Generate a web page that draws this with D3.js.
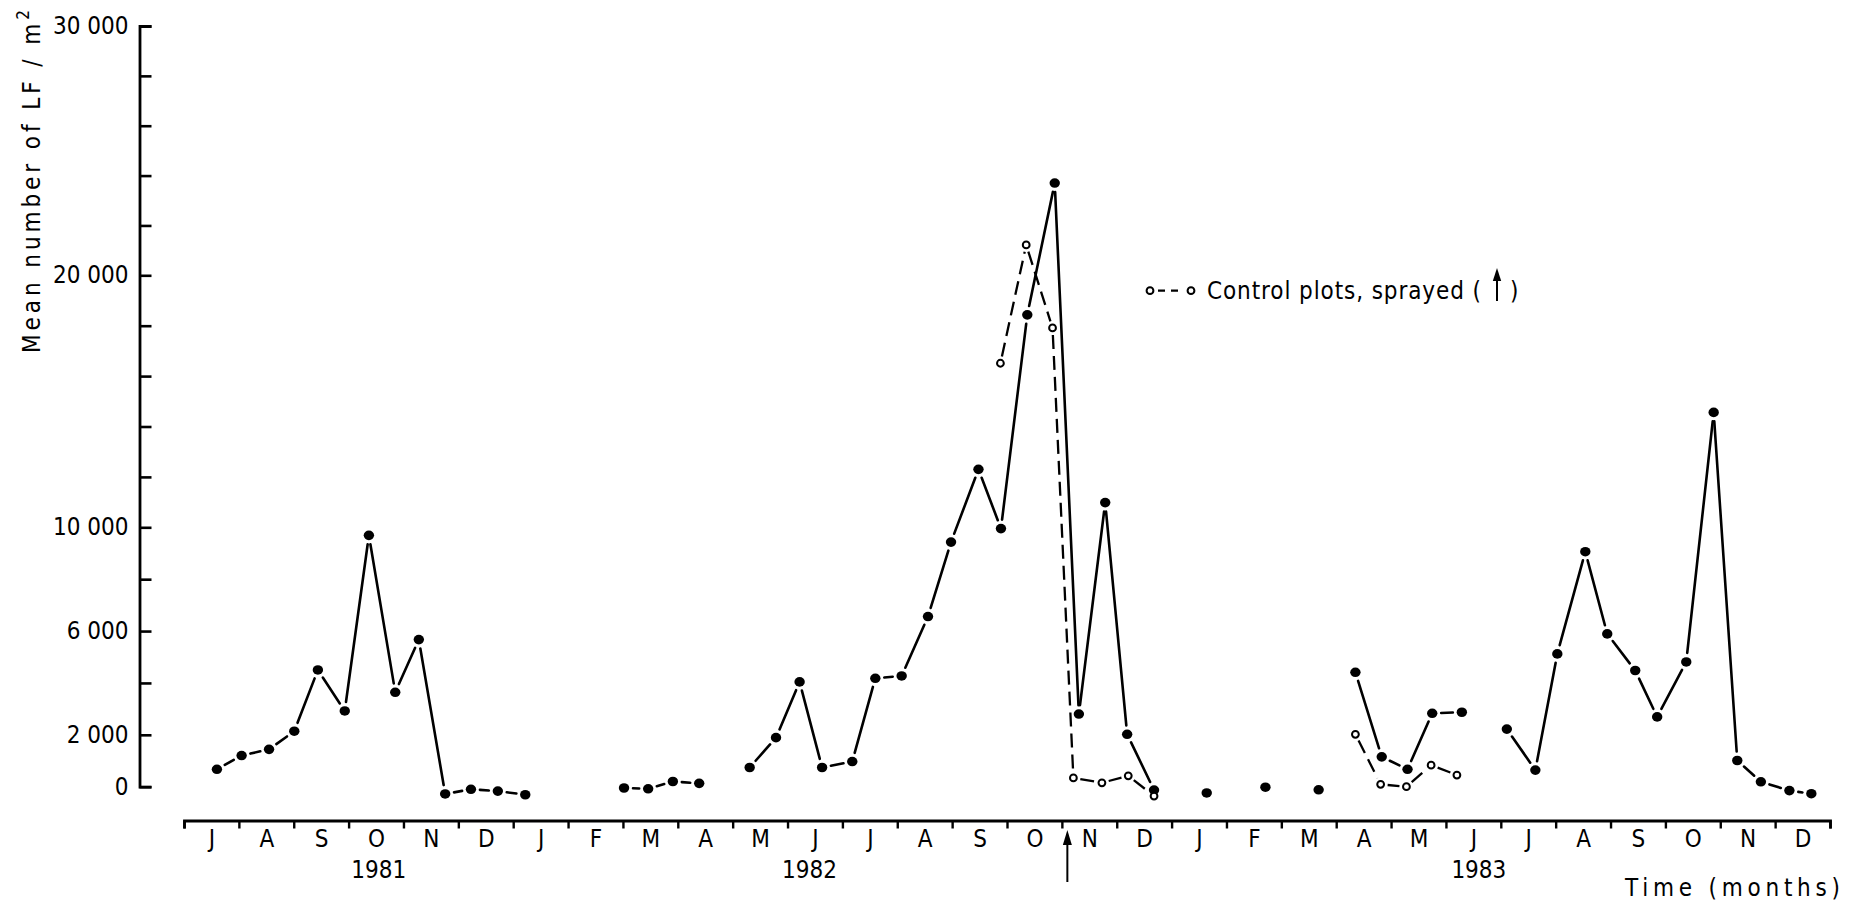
<!DOCTYPE html>
<html>
<head>
<meta charset="utf-8">
<script src="https://cdn.jsdelivr.net/npm/d3@7/dist/d3.min.js"></script>
<style>
  html, body { margin: 0; padding: 0; background: #fff; }
  svg { display: block; }
  text { font-family: "Liberation Sans Narrow", "DejaVu Sans Condensed", "DejaVu Sans", sans-serif; fill: #000; }
</style>
</head>
<body>
<svg id="chart" width="1863" height="905"></svg>
<script>
// ---- Data ---------------------------------------------------------------
// Month initials, July 1981 to December 1983
const months = ["J","A","S","O","N","D","J","F","M","A","M","J",
                "J","A","S","O","N","D","J","F","M","A","M","J",
                "J","A","S","O","N","D"];
const years = ["1981", "1982", "1983"];
const yearCentre = [3.55, 11.4, 23.6];          // months since 1 July 1981

// y axis: a tick every 2000, only some of them labelled
const yTicks = d3.range(0, 30001, 2000);
const yLabelled = [0, 2000, 6000, 10000, 20000, 30000];

// Sampling times (months since 1 July 1981) and mean number of LF / m2.
// Untreated plots, one pair of arrays per run joined by a line.
const run1T = [0.60, 1.05, 1.55, 2.01, 2.44, 2.93, 3.37, 3.85, 4.28, 4.76, 5.23, 5.72, 6.22];
const run1V = [670, 1200, 1440, 2140, 4500, 2920, 9690, 3640, 5670, -280, -100, -170, -310];

const run2T = [8.02, 8.46, 8.91, 9.39];
const run2V = [-50, -80, 200, 130];

const run3T = [10.31, 10.79, 11.22, 11.63, 12.18, 12.60, 13.08, 13.56, 13.98, 14.48,
               14.89, 15.37, 15.87, 16.31, 16.79, 17.19, 17.68];
const run3V = [740, 1890, 4040, 740, 970, 4180, 4270, 6560, 9430, 12300,
               9950, 18430, 23700, 2800, 10980, 2020, -130];

// winter samples shown without connecting lines
const singleT = [18.64, 19.71, 20.68];
const singleV = [-240, -20, -120];

const run4T = [21.35, 21.83, 22.30, 22.75, 23.29];
const run4V = [4410, 1150, 670, 2830, 2870];

const run5T = [24.11, 24.63, 25.03, 25.54, 25.94, 26.45, 26.85, 27.38, 27.88, 28.31, 28.74, 29.26, 29.66];
const run5V = [2220, 640, 5120, 9060, 5890, 4480, 2690, 4810, 14560, 1010, 190, -150, -270];

// Control plots, sprayed
const ctrl1T = [14.88, 15.35, 15.83, 16.21, 16.73, 17.21, 17.68];
const ctrl1V = [16510, 21220, 17910, 340, 150, 420, -360];

const ctrl2T = [21.35, 21.81, 22.28, 22.73, 23.20];
const ctrl2V = [2020, 90, 0, 830, 450];

// date of spraying
const sprayT = 16.1;

// ---- Layout -------------------------------------------------------------
const svg = d3.select("#chart");
const INK = "#000";

const x = d3.scaleLinear().domain([0, 30]).range([184, 1830]);
const y = d3.scaleLinear()
  .domain([0, 10000, 20000, 30000])
  .range([786.7, 527.3, 275.3, 26]);

const zip = (ts, vs) => ts.map((t, i) => ({ t, v: vs[i] }));
const filledRuns = [zip(run1T, run1V), zip(run2T, run2V), zip(run3T, run3V), zip(run4T, run4V), zip(run5T, run5V)];
const controlRuns = [zip(ctrl1T, ctrl1V), zip(ctrl2T, ctrl2V)];
const singles = zip(singleT, singleV);

// ---- Axes ---------------------------------------------------------------
const fmt = d => d3.format(",")(d).replace(",", " ");

const yAxis = svg.append("g")
  .attr("transform", "translate(139.5,0)")
  .call(d3.axisLeft(y)
    .tickValues(yTicks)
    .tickSize(-12)
    .tickSizeOuter(-12)
    .tickPadding(11)
    .tickFormat(d => yLabelled.includes(d) ? fmt(d) : ""));
yAxis.select(".domain").attr("stroke", INK).attr("stroke-width", 2.8).attr("fill", "none");
yAxis.selectAll(".tick line").attr("stroke", INK).attr("stroke-width", 2.6);
yAxis.selectAll(".tick text").attr("font-size", 24).attr("fill", INK);
yAxis.attr("font-family", null);

const xAxis = svg.append("g")
  .attr("transform", "translate(0,820.5)")
  .call(d3.axisBottom(x)
    .tickValues(d3.range(0, 31))
    .tickSize(8)
    .tickSizeOuter(8)
    .tickFormat(""));
xAxis.select(".domain").attr("stroke", INK).attr("stroke-width", 2.8).attr("fill", "none");
xAxis.selectAll(".tick line").attr("stroke", INK).attr("stroke-width", 2.4);
xAxis.attr("font-family", null);

const monthAxis = svg.append("g")
  .attr("transform", "translate(0,820.5)")
  .call(d3.axisBottom(x)
    .tickValues(d3.range(30).map(i => i + 0.5))
    .tickSize(0)
    .tickPadding(9.5)
    .tickFormat(d => months[Math.floor(d)]));
monthAxis.select(".domain").remove();
monthAxis.selectAll(".tick text").attr("font-size", 24).attr("fill", INK);
monthAxis.attr("font-family", null);

svg.append("g").selectAll("text")
  .data(years)
  .join("text")
  .attr("x", (d, i) => x(yearCentre[i]))
  .attr("y", 878)
  .attr("text-anchor", "middle")
  .attr("font-size", 24)
  .text(d => d);

// axis titles
const yTitle = svg.append("text")
  .attr("transform", "translate(40,353) rotate(-90)")
  .attr("font-size", 24)
  .attr("textLength", 343)
  .attr("lengthAdjust", "spacing");
yTitle.append("tspan").text("Mean number of LF / m");
yTitle.append("tspan").attr("dy", -11).attr("font-size", 17).text("2");

svg.append("text")
  .attr("x", 1625).attr("y", 896)
  .attr("font-size", 24)
  .attr("textLength", 215)
  .attr("lengthAdjust", "spacing")
  .text("Time (months)");

// spraying date marker under the axis
const sx = x(sprayT);
svg.append("line")
  .attr("x1", sx).attr("x2", sx).attr("y1", 882).attr("y2", 840)
  .attr("stroke", INK).attr("stroke-width", 2);
svg.append("path")
  .attr("d", `M${sx},830 L${sx - 4.5},845 L${sx + 4.5},845 Z`)
  .attr("fill", INK);

// ---- Series -------------------------------------------------------------
// Segments stop short of the markers at both ends, as in a pen-drawn figure.
function trimmedSegments(run, gap) {
  const segs = [];
  for (let i = 1; i < run.length; i++) {
    const x0 = x(run[i - 1].t), y0 = y(run[i - 1].v);
    const x1 = x(run[i].t), y1 = y(run[i].v);
    const len = Math.hypot(x1 - x0, y1 - y0);
    if (len <= 2 * gap) continue;
    const ux = (x1 - x0) / len, uy = (y1 - y0) / len;
    segs.push({ x0: x0 + ux * gap, y0: y0 + uy * gap, x1: x1 - ux * gap, y1: y1 - uy * gap });
  }
  return segs;
}

const lines = svg.append("g");
filledRuns.forEach(run => {
  lines.selectAll(null)
    .data(trimmedSegments(run, 9))
    .join("line")
    .attr("x1", d => d.x0).attr("y1", d => d.y0)
    .attr("x2", d => d.x1).attr("y2", d => d.y1)
    .attr("stroke", INK).attr("stroke-width", 2.6).attr("stroke-linecap", "round");
});
controlRuns.forEach(run => {
  lines.selectAll(null)
    .data(trimmedSegments(run, 7))
    .join("line")
    .attr("x1", d => d.x0).attr("y1", d => d.y0)
    .attr("x2", d => d.x1).attr("y2", d => d.y1)
    .attr("stroke", INK).attr("stroke-width", 2.3)
    .attr("stroke-dasharray", "14 7");
});

const dots = svg.append("g");
dots.selectAll("ellipse.filled")
  .data(filledRuns.flat().concat(singles))
  .join("ellipse")
  .attr("class", "filled")
  .attr("cx", d => x(d.t)).attr("cy", d => y(d.v))
  .attr("rx", 5.2).attr("ry", 4.8)
  .attr("fill", INK);

dots.selectAll("circle.open")
  .data(controlRuns.flat())
  .join("circle")
  .attr("class", "open")
  .attr("cx", d => x(d.t)).attr("cy", d => y(d.v))
  .attr("r", 3.4)
  .attr("fill", "#fff").attr("stroke", INK).attr("stroke-width", 2);

// ---- Legend -------------------------------------------------------------
const legend = svg.append("g");
legend.append("line")
  .attr("x1", 1158).attr("x2", 1184).attr("y1", 290.7).attr("y2", 290.7)
  .attr("stroke", INK).attr("stroke-width", 2.2).attr("stroke-dasharray", "7 6");
legend.selectAll("circle")
  .data([1150, 1191])
  .join("circle")
  .attr("cx", d => d).attr("cy", 290.7).attr("r", 3.4)
  .attr("fill", "#fff").attr("stroke", INK).attr("stroke-width", 2);
const legendText = legend.append("text")
  .attr("y", 299.3)
  .attr("font-size", 24);
legendText.append("tspan").attr("x", 1207)
  .attr("textLength", 274).attr("lengthAdjust", "spacing")
  .text("Control plots, sprayed (");
legendText.append("tspan").attr("x", 1510).text(")");
legend.append("line")
  .attr("x1", 1497).attr("x2", 1497).attr("y1", 301).attr("y2", 278)
  .attr("stroke", INK).attr("stroke-width", 2);
legend.append("path")
  .attr("d", "M1497,268 L1492.8,281 L1501.2,281 Z")
  .attr("fill", INK);
</script>
</body>
</html>
